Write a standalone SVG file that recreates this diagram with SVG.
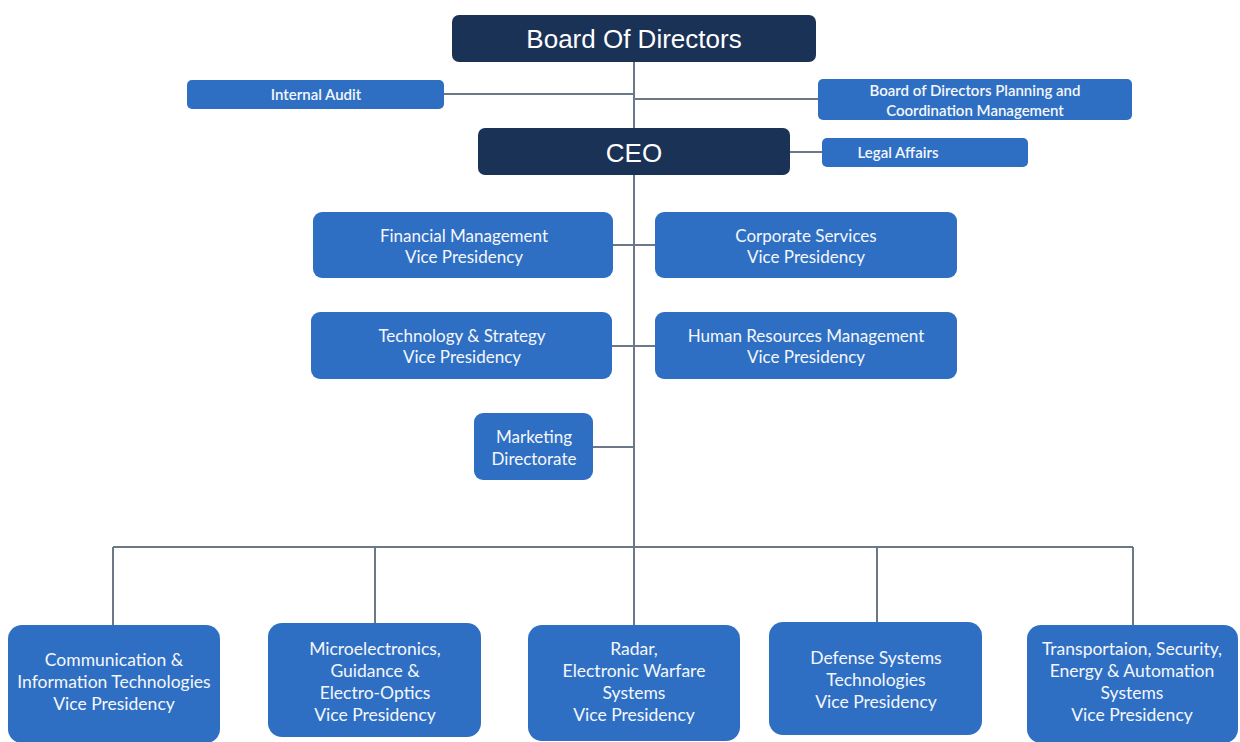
<svg xmlns="http://www.w3.org/2000/svg" width="1240" height="742" viewBox="0 0 1240 742">
<style>
.navy{fill:#1b3257;}
.blue{fill:#2f6fc3;}
.title{font-family:"Liberation Sans",Arial,sans-serif;font-size:26px;fill:#ffffff;text-anchor:middle;}
.sm{font-family:Lato,"Open Sans",sans-serif;font-size:15px;font-weight:600;fill:#f4f7fc;text-anchor:middle;}
.md{font-family:Lato,"Open Sans",sans-serif;font-size:17px;fill:#f4f7fc;text-anchor:middle;}
.lg{font-family:Lato,"Open Sans",sans-serif;font-size:17.5px;fill:#f4f7fc;text-anchor:middle;}
.ln{stroke:#6b7888;stroke-width:2;fill:none;}
</style>
<rect width="1240" height="742" fill="#ffffff"/>
<g id="connectors" class="ln">
<path d="M634 62 V128"/>
<path d="M444 94 H634"/>
<path d="M634 99 H818"/>
<path d="M790 152 H822"/>
<path d="M634 175 V625"/>
<path d="M613 245 H655"/>
<path d="M612 346 H655"/>
<path d="M593 447 H634"/>
<path d="M113 547 H1133"/>
<path d="M113 547 V625"/>
<path d="M375 547 V623"/>
<path d="M877 547 V622"/>
<path d="M1133 547 V625"/>
</g>
<g id="board"><rect class="navy" x="452" y="15" width="364" height="47" rx="7"/><text class="title" x="634" y="48">Board Of Directors</text></g>
<g id="audit"><rect class="blue" x="187" y="80" width="257" height="29" rx="5"/><text class="sm" x="316" y="100">Internal Audit</text></g>
<g id="planning"><rect class="blue" x="818" y="79" width="314" height="41" rx="5"/><text class="sm" x="975" y="96">Board of Directors Planning and</text><text class="sm" x="975" y="116">Coordination Management</text></g>
<g id="ceo"><rect class="navy" x="478" y="128" width="312" height="47" rx="7"/><text class="title" x="634" y="162">CEO</text></g>
<g id="legal"><rect class="blue" x="822" y="138" width="206" height="29" rx="5"/><text class="sm" x="898" y="158">Legal Affairs</text></g>
<g id="financial"><rect class="blue" x="313" y="212" width="300" height="66" rx="9"/><text class="md" x="464" y="242">Financial Management</text><text class="md" x="464" y="263">Vice Presidency</text></g>
<g id="corporate"><rect class="blue" x="655" y="212" width="302" height="66" rx="9"/><text class="md" x="806" y="242">Corporate Services</text><text class="md" x="806" y="263">Vice Presidency</text></g>
<g id="technology"><rect class="blue" x="311" y="312" width="301" height="67" rx="9"/><text class="md" x="462" y="342">Technology &amp; Strategy</text><text class="md" x="462" y="363">Vice Presidency</text></g>
<g id="hr"><rect class="blue" x="655" y="312" width="302" height="67" rx="9"/><text class="md" x="806" y="342">Human Resources Management</text><text class="md" x="806" y="363">Vice Presidency</text></g>
<g id="marketing"><rect class="blue" x="474" y="413" width="119" height="67" rx="9"/><text class="md" x="534" y="443">Marketing</text><text class="md" x="534" y="465">Directorate</text></g>
<g id="communication"><rect class="blue" x="8" y="625" width="212" height="118" rx="14"/><text class="lg" x="114" y="666">Communication &amp;</text><text class="lg" x="114" y="688">Information Technologies</text><text class="lg" x="114" y="710">Vice Presidency</text></g>
<g id="microelectronics"><rect class="blue" x="268" y="623" width="213" height="114" rx="14"/><text class="lg" x="375" y="655">Microelectronics,</text><text class="lg" x="375" y="677">Guidance &amp;</text><text class="lg" x="375" y="699">Electro-Optics</text><text class="lg" x="375" y="721">Vice Presidency</text></g>
<g id="radar"><rect class="blue" x="528" y="625" width="212" height="116" rx="14"/><text class="lg" x="634" y="655">Radar,</text><text class="lg" x="634" y="677">Electronic Warfare</text><text class="lg" x="634" y="699">Systems</text><text class="lg" x="634" y="721">Vice Presidency</text></g>
<g id="defense"><rect class="blue" x="769" y="622" width="213" height="113" rx="14"/><text class="lg" x="876" y="664">Defense Systems</text><text class="lg" x="876" y="686">Technologies</text><text class="lg" x="876" y="708">Vice Presidency</text></g>
<g id="transportation"><rect class="blue" x="1027" y="625" width="211" height="118" rx="14"/><text class="lg" x="1132" y="655">Transportaion, Security,</text><text class="lg" x="1132" y="677">Energy &amp; Automation</text><text class="lg" x="1132" y="699">Systems</text><text class="lg" x="1132" y="721">Vice Presidency</text></g>
</svg>
